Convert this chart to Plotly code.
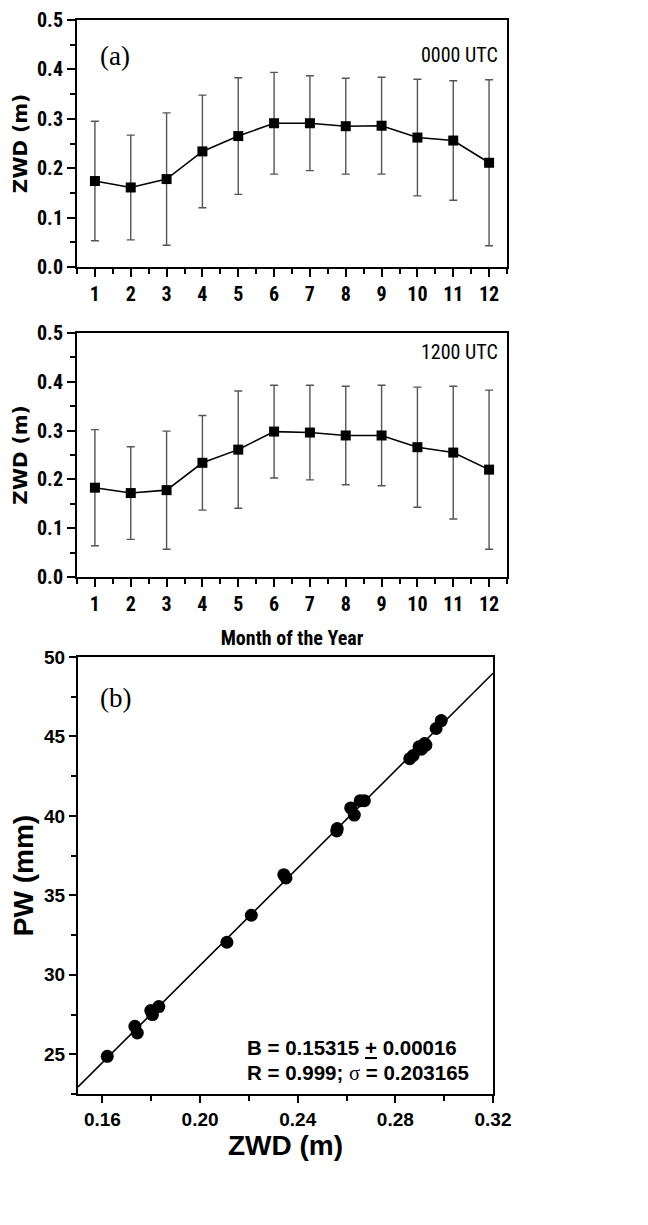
import plotly.graph_objects as go

# ---------------- data ----------------
months = list(range(1, 13))
month_labels = [str(m) for m in months]

zwd_0000 = [0.174, 0.161, 0.178, 0.234, 0.265, 0.291, 0.291, 0.285, 0.286, 0.262, 0.256, 0.211]
sd_0000 = [0.121, 0.106, 0.134, 0.114, 0.118, 0.103, 0.096, 0.097, 0.098, 0.118, 0.121, 0.168]

zwd_1200 = [0.183, 0.172, 0.178, 0.234, 0.261, 0.298, 0.296, 0.290, 0.290, 0.266, 0.255, 0.220]
sd_1200 = [0.119, 0.095, 0.121, 0.097, 0.120, 0.095, 0.097, 0.101, 0.103, 0.123, 0.136, 0.163]

scatter_zwd = [0.162, 0.1733, 0.1743, 0.1798, 0.1805, 0.1831, 0.2110, 0.2210, 0.2343, 0.2352,
               0.2560, 0.2562, 0.2617, 0.2632, 0.2656, 0.2673, 0.2859, 0.2873, 0.2897, 0.2907,
               0.2920, 0.2925, 0.2967, 0.2988]
scatter_pw = [24.87, 26.76, 26.34, 27.75, 27.50, 28.00, 32.05, 33.75, 36.30, 36.10,
              39.05, 39.20, 40.50, 40.05, 40.96, 40.96, 43.60, 43.80, 44.35, 44.20,
              44.55, 44.45, 45.50, 46.00]

fit_slope = 153.15      # mm per m
fit_intercept = -0.03
fit_x = [0.15, 0.32]
fit_y = [fit_slope * x + fit_intercept for x in fit_x]

# ---------------- styling ----------------
OFF = 8                 # default page body margin
W, H = 648 - OFF, 1225 - OFF
NARROW = "Liberation Sans Narrow, Arial Narrow, Roboto Condensed, Liberation Sans"
SANS = "Liberation Sans, Arial, DejaVu Sans"
SERIF = "Liberation Serif, Times New Roman, serif"


def fx(px):
    return (px - OFF) / W


def fy(py):
    return 1 - (py - OFF) / H


fig = go.Figure()


def month_trace(y, sd, xa, ya):
    return go.Scatter(
        x=months, y=y, xaxis=xa, yaxis=ya, mode="lines+markers",
        line=dict(color="black", width=1.6),
        marker=dict(symbol="square", size=10, color="black"),
        error_y=dict(type="data", array=sd, visible=True, color="#555555",
                     thickness=1.4, width=4),
        showlegend=False, hoverinfo="x+y",
    )


fig.add_trace(month_trace(zwd_0000, sd_0000, "x", "y"))
fig.add_trace(month_trace(zwd_1200, sd_1200, "x2", "y2"))

fig.add_trace(go.Scatter(
    x=fit_x, y=fit_y, xaxis="x3", yaxis="y3", mode="lines",
    line=dict(color="black", width=1.6), showlegend=False, hoverinfo="skip"))
fig.add_trace(go.Scatter(
    x=scatter_zwd, y=scatter_pw, xaxis="x3", yaxis="y3", mode="markers",
    marker=dict(symbol="circle", size=13, color="black"), showlegend=False))

axis_common = dict(showline=True, linecolor="black", linewidth=2, mirror=True,
                   ticks="outside", tickcolor="black", tickwidth=2, ticklen=8,
                   showgrid=False, zeroline=False, automargin=False)

month_x = dict(axis_common, range=[0.5, 12.5], tickmode="array", tickvals=months,
               ticktext=month_labels,
               tickfont=dict(family=NARROW, size=20, color="black", weight="bold"),
               minor=dict(dtick=0.5, tick0=0.5, ticks="outside", ticklen=5,
                          tickwidth=2, tickcolor="black"))
zwd_y = dict(axis_common, range=[0, 0.5], dtick=0.1, tick0=0, tickformat=".1f",
             tickfont=dict(family=NARROW, size=20, color="black", weight="bold"),
             minor=dict(dtick=0.05, ticks="outside", ticklen=5, tickwidth=2,
                        tickcolor="black"),
             title=dict(text="ZWD (m)", standoff=4,
                        font=dict(family="DejaVu Sans", size=20, color="black",
                                  weight="bold")))

fig.update_layout(
    width=W, height=H, margin=dict(l=0, r=0, t=0, b=0),
    paper_bgcolor="white", plot_bgcolor="white",
    xaxis=dict(month_x, domain=[fx(77), fx(507)], anchor="y"),
    yaxis=dict(zwd_y, domain=[fy(267), fy(20)], anchor="x"),
    xaxis2=dict(month_x, domain=[fx(77), fx(507)], anchor="y2",
                title=dict(text="Month of the Year", standoff=16,
                           font=dict(family=NARROW, size=20, color="black",
                                     weight="bold"))),
    yaxis2=dict(zwd_y, domain=[fy(577), fy(333)], anchor="x2"),
    xaxis3=dict(axis_common, domain=[fx(78), fx(493)], anchor="y3", range=[0.15, 0.32],
                tick0=0.16, dtick=0.04, tickformat=".2f", ticklen=7,
                tickfont=dict(family=SANS, size=19, color="black", weight="bold"),
                minor=dict(dtick=0.02, tick0=0.16, ticks="outside", ticklen=5,
                           tickwidth=2, tickcolor="black"),
                title=dict(text="ZWD (m)", standoff=0,
                           font=dict(family=SANS, size=28, color="black",
                                     weight="bold"))),
    yaxis3=dict(axis_common, domain=[fy(1094), fy(657)], anchor="x3", range=[22.5, 50],
                tick0=25, dtick=5, ticklen=7,
                tickfont=dict(family=SANS, size=19, color="black", weight="bold"),
                minor=dict(dtick=2.5, tick0=22.5, ticks="outside", ticklen=5,
                           tickwidth=2, tickcolor="black"),
                title=dict(text="PW (mm)", standoff=6,
                           font=dict(family=SANS, size=28, color="black",
                                     weight="bold"))),
)

ann = []
ann.append(dict(text="(a)", x=fx(98), y=fy(56), xref="paper", yref="paper",
                xanchor="left", yanchor="middle", showarrow=False,
                font=dict(family=SERIF, size=27, color="black")))
ann.append(dict(text="0000 UTC", x=fx(500), y=fy(55), xref="paper", yref="paper",
                xanchor="right", yanchor="middle", showarrow=False,
                font=dict(family=NARROW, size=20, color="black")))
ann.append(dict(text="1200 UTC", x=fx(500), y=fy(352), xref="paper", yref="paper",
                xanchor="right", yanchor="middle", showarrow=False,
                font=dict(family=NARROW, size=20, color="black")))
ann.append(dict(text="(b)", x=fx(98), y=fy(698), xref="paper", yref="paper",
                xanchor="left", yanchor="middle", showarrow=False,
                font=dict(family=SERIF, size=27, color="black")))
ann.append(dict(text="<b>B = 0.15315 <u>+</u> 0.00016</b>", x=fx(245), y=fy(1047),
                xref="paper", yref="paper", xanchor="left", yanchor="middle",
                showarrow=False, font=dict(family=SANS, size=20.5, color="black")))
ann.append(dict(text="<b>R = 0.999; </b><span style=\"font-family:Liberation Serif\">σ</span><b> = 0.203165</b>",
                x=fx(245), y=fy(1072),
                xref="paper", yref="paper", xanchor="left", yanchor="middle",
                showarrow=False, font=dict(family=SANS, size=20.5, color="black")))
fig.update_layout(annotations=ann)

fig.write_html("out.html")
